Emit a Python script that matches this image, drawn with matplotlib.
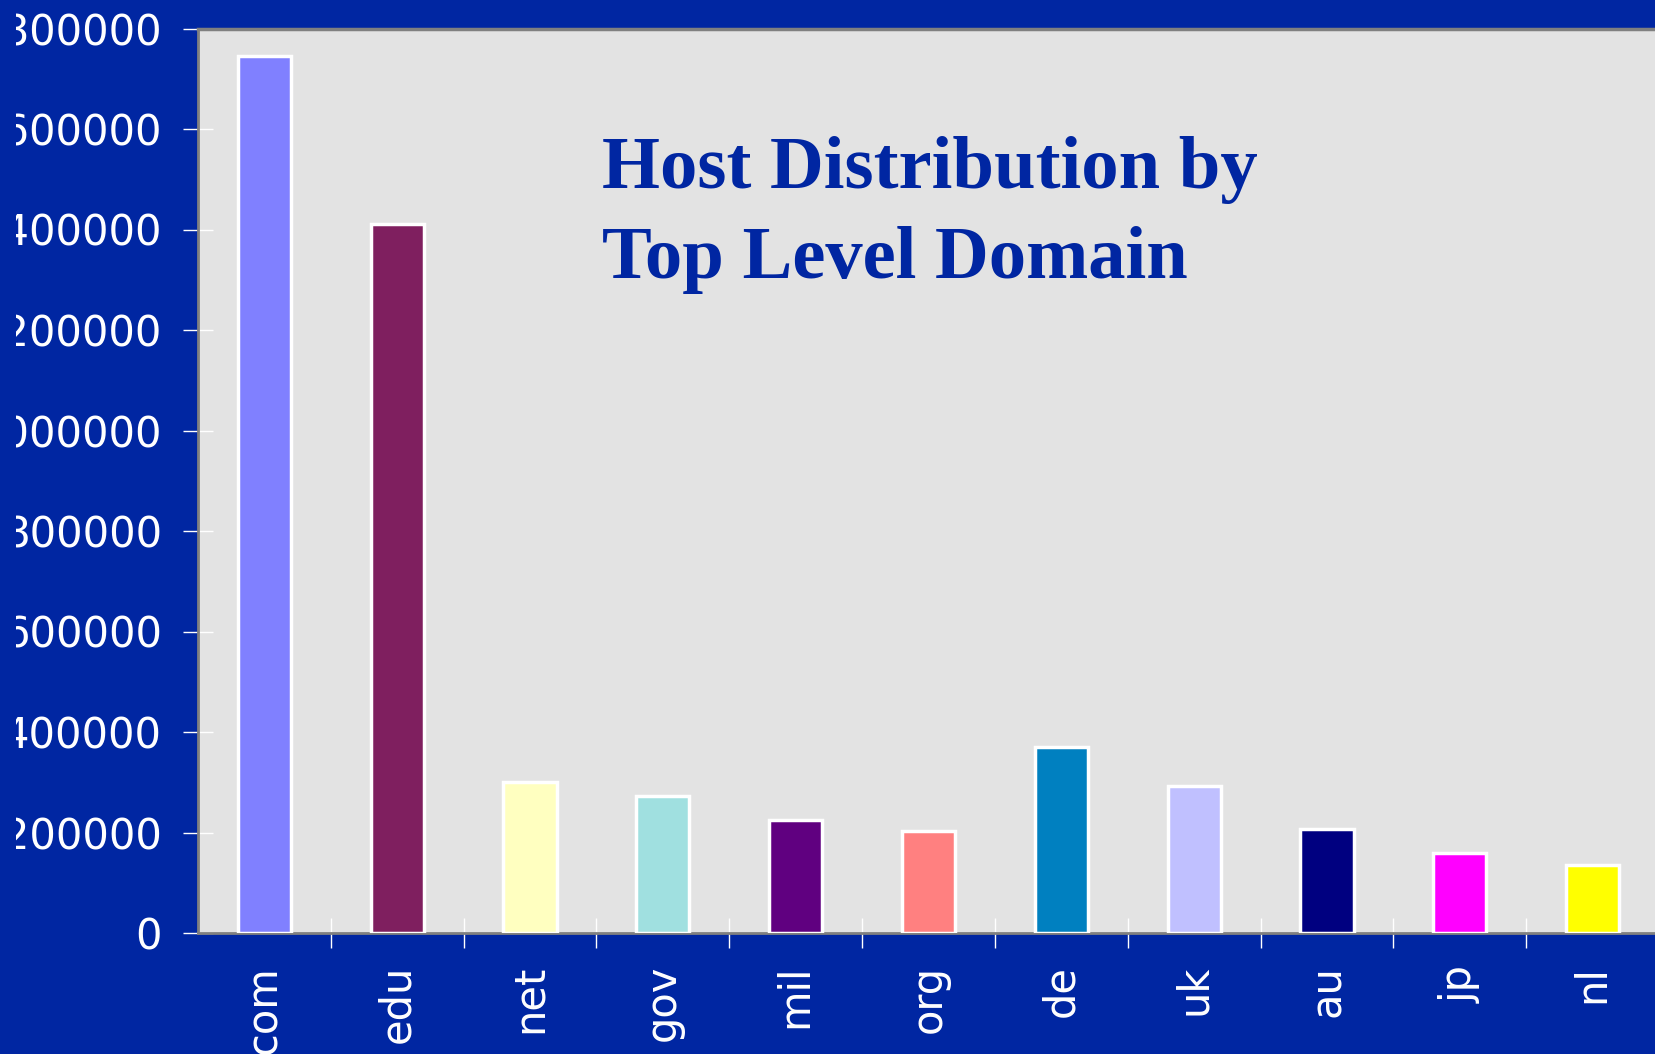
import matplotlib
matplotlib.use("Agg")
import matplotlib.pyplot as plt
from matplotlib.transforms import Bbox, TransformedBbox
import numpy as np

# host counts per top level domain
domains = ["com", "edu", "net", "gov", "mil", "org", "de", "uk", "au", "jp", "nl"]
hosts = [1745000, 1411000, 300000, 273000, 225000, 202000, 370000, 292000, 206000, 160000, 135000]
bar_colours = ["#8080FF", "#7F1F5F", "#FFFFC0", "#A0E0E0", "#600080", "#FF8080",
               "#0080C0", "#C0C0FF", "#000080", "#FF00FF", "#FFFF00"]
yticks = list(range(0, 1800001, 200000))

BG = "#0026A2"
W, H = 1655, 1054

fig = plt.figure(figsize=(W / 100, H / 100), dpi=100, facecolor=BG)
ax = fig.add_axes([198 / W, 1 - 933 / H, 1461 / W, (933 - 28.5) / H])
ax.set_facecolor("#E3E3E3")

x = np.arange(len(domains))
ax.bar(x, hosts, width=0.4, color=bar_colours, edgecolor="white", linewidth=2.5, zorder=3)

ax.set_xlim(-0.5, len(domains) - 0.5)
ax.set_ylim(0, 1800000)

# tick marks sit between bars, labels sit under them
ax.set_xticks(x[:-1] + 0.5)
ax.set_xticklabels([])
ax.set_xticks(x, minor=True)
ax.set_xticklabels(domains, minor=True, rotation=90, ha="center", va="top")
ax.set_yticks(yticks)
ax.set_yticklabels([str(v) for v in yticks])

lab_font = dict(family=["DejaVu Sans"], size=30)
for lab in ax.get_xticklabels(minor=True) + ax.get_yticklabels():
    lab.set(color="white", **lab_font)

# the original clips the long y labels to a fixed-width box
clip = TransformedBbox(Bbox.from_extents(16 / W, 0, 190 / W, 1), fig.transFigure)
for lab in ax.get_yticklabels():
    lab.set_clip_box(clip)
    lab.set_clip_on(True)

ax.tick_params(axis="both", which="major", direction="inout", length=21.6, width=1,
               color="white", pad=15)
ax.tick_params(axis="x", which="minor", length=0, pad=23)

for side in ("left", "top", "bottom"):
    ax.spines[side].set_color("#808080")
    ax.spines[side].set_linewidth(2)
ax.spines["top"].set_linewidth(2.5)
ax.spines["right"].set_visible(False)

title_font = dict(family=["Liberation Serif", "DejaVu Serif"], weight="bold", size=53.7,
                  color="#0026A2", ha="left", va="baseline")
fig.text(602 / W, 1 - 188 / H, "Host Distribution by", **title_font)
fig.text(602 / W, 1 - 278 / H, "Top Level Domain", **title_font)

fig.savefig("out.png", dpi=100, facecolor=BG)
